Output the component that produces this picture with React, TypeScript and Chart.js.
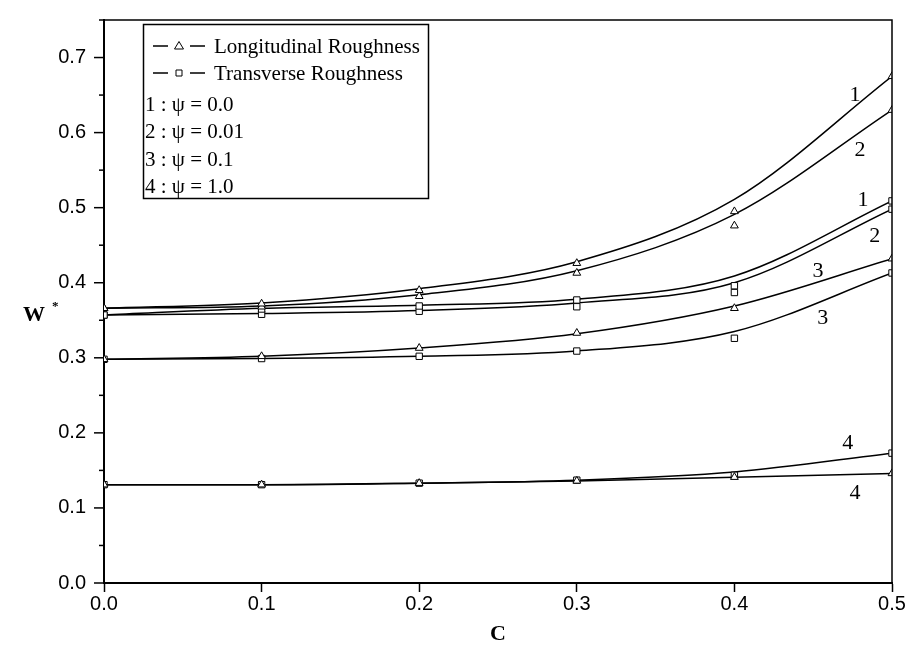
import { useEffect, useRef } from 'react';
import { Chart, registerables } from 'chart.js';

Chart.register(...registerables);

// ---------- data ----------
const cValues = [0, 0.1, 0.2, 0.3, 0.4, 0.5];

// fitted curves
const longCurvePsi0 = [0.366, 0.373, 0.392, 0.428, 0.511, 0.675];
const longCurvePsi001 = [0.366, 0.369, 0.384, 0.416, 0.491, 0.63];
const transCurvePsi0 = [0.357, 0.366, 0.37, 0.378, 0.409, 0.509];
const transCurvePsi001 = [0.357, 0.359, 0.363, 0.373, 0.4, 0.498];
const longCurvePsi01 = [0.298, 0.302, 0.313, 0.332, 0.369, 0.432];
const transCurvePsi01 = [0.298, 0.299, 0.302, 0.309, 0.335, 0.413];
const longCurvePsi1 = [0.131, 0.131, 0.133, 0.136, 0.141, 0.146];
const transCurvePsi1 = [0.131, 0.131, 0.133, 0.137, 0.148, 0.173];

// computed points (markers)
const longPtsPsi0 = [0.366, 0.372, 0.39, 0.426, 0.495, 0.675];
const longPtsPsi001 = [0.366, 0.368, 0.382, 0.413, 0.476, 0.63];
const transPtsPsi0 = [0.357, 0.365, 0.369, 0.377, 0.396, 0.509];
const transPtsPsi001 = [0.357, 0.358, 0.362, 0.368, 0.387, 0.498];
const longPtsPsi01 = [0.298, 0.302, 0.313, 0.333, 0.366, 0.432];
const transPtsPsi01 = [0.298, 0.299, 0.302, 0.309, 0.326, 0.413];
const longPtsPsi1 = [0.131, 0.131, 0.133, 0.136, 0.141, 0.146];
const transPtsPsi1 = [0.131, 0.131, 0.133, 0.137, 0.1435, 0.173];

const legendSeries = ['Longitudinal Roughness', 'Transverse Roughness'];
const legendPsi = ['1 : \u03C8 = 0.0', '2 : \u03C8 = 0.01', '3 : \u03C8 = 0.1', '4 : \u03C8 = 1.0'];

// curve number labels, in data coordinates
const curveLabelText = ['1', '2', '1', '2', '3', '3', '4', '4'];
const curveLabelC = [0.4765, 0.4797, 0.4816, 0.489, 0.453, 0.456, 0.472, 0.4765];
const curveLabelW = [0.65, 0.576, 0.5105, 0.462, 0.415, 0.3526, 0.1857, 0.119];

const xMin = 0;
const xMax = 0.5;
const xStep = 0.1;
const yMin = 0;
const yMax = 0.75;
const yStep = 0.05;

const xTitle = 'C';
const yTitle = 'W';
const yTitleAt = 0.356;

const SERIF = '"Liberation Serif", "Times New Roman", serif';
const SANS = '"Liberation Sans", Arial, sans-serif';

const toXY = (arr: number[]) => cValues.map((c, i) => ({ x: c, y: arr[i] }));

const curve = (arr: number[]) => ({
  data: toXY(arr),
  showLine: true,
  borderColor: '#000',
  borderWidth: 1.5,
  pointRadius: 0,
  pointHoverRadius: 0,
  cubicInterpolationMode: 'monotone' as const,
  fill: false,
  clip: 0,
});

const markers = (arr: number[], style: 'triangle' | 'rect') => ({
  data: toXY(arr),
  showLine: false,
  pointStyle: style,
  pointRadius: 4.5,
  pointBackgroundColor: '#fff',
  pointBorderColor: '#000',
  pointBorderWidth: 1,
  clip: 0,
});

const decorPlugin = {
  id: 'decor',
  afterDraw(chart: any) {
    const { ctx, chartArea: a, scales } = chart;
    const xs = scales.x;
    const ys = scales.y;
    ctx.save();
    // frame top/right
    ctx.strokeStyle = '#000';
    ctx.lineWidth = 1.5;
    ctx.beginPath();
    ctx.moveTo(a.left, a.top);
    ctx.lineTo(a.right, a.top);
    ctx.lineTo(a.right, a.bottom);
    ctx.stroke();

    // y ticks major/minor
    ctx.lineWidth = 1.5;
    ys.ticks.forEach((t: any) => {
      const v = t.value;
      const py = ys.getPixelForValue(v);
      const major = Math.round(v * 100) % 10 === 0;
      const len = major ? 10 : 5;
      ctx.beginPath();
      ctx.moveTo(a.left - len, py);
      ctx.lineTo(a.left, py);
      ctx.stroke();
    });

    // axis titles
    ctx.fillStyle = '#000';
    ctx.font = `bold 22px ${SERIF}`;
    ctx.textAlign = 'center';
    ctx.textBaseline = 'middle';
    ctx.fillText(xTitle, (a.left + a.right) / 2, 634);
    const yMid = ys.getPixelForValue(yTitleAt);
    ctx.textAlign = 'left';
    ctx.fillText(yTitle, 23, yMid);
    ctx.font = `bold 13px ${SERIF}`;
    ctx.fillText('*', 52, yMid - 9);

    // curve labels
    ctx.font = `22px ${SERIF}`;
    ctx.textAlign = 'center';
    curveLabelText.forEach((txt, i) => {
      ctx.fillText(txt, xs.getPixelForValue(curveLabelC[i]), ys.getPixelForValue(curveLabelW[i]));
    });

    // legend box
    const bx = 143, by = 24, bw = 285, bh = 174;
    ctx.lineWidth = 1.5;
    ctx.strokeRect(bx + 0.5, by + 0.5, bw, bh);
    const rowY = [46, 73, 104, 131, 159, 186];
    ctx.font = `21px ${SERIF}`;
    ctx.textAlign = 'left';
    legendSeries.forEach((label, i) => {
      const y = rowY[i];
      ctx.lineWidth = 1.3;
      ctx.beginPath();
      ctx.moveTo(153, y);
      ctx.lineTo(168, y);
      ctx.moveTo(190, y);
      ctx.lineTo(205, y);
      ctx.stroke();
      ctx.lineWidth = 1;
      ctx.beginPath();
      if (i === 0) {
        ctx.moveTo(179, y - 4.5);
        ctx.lineTo(183.5, y + 3);
        ctx.lineTo(174.5, y + 3);
        ctx.closePath();
      } else {
        ctx.rect(176, y - 3, 6, 6);
      }
      ctx.stroke();
      ctx.fillText(label, 214, y + 1);
    });
    legendPsi.forEach((label, i) => {
      ctx.fillText(label, 145, rowY[i + 2] + 1);
    });
    ctx.restore();
  },
};

export default function App() {
  const ref = useRef<HTMLCanvasElement | null>(null);
  useEffect(() => {
    if (!ref.current) return;
    const chart = new Chart(ref.current, {
      type: 'line',
      data: {
        datasets: [
          markers(longPtsPsi0, 'triangle'),
          markers(longPtsPsi001, 'triangle'),
          markers(transPtsPsi0, 'rect'),
          markers(transPtsPsi001, 'rect'),
          markers(longPtsPsi01, 'triangle'),
          markers(transPtsPsi01, 'rect'),
          markers(longPtsPsi1, 'triangle'),
          markers(transPtsPsi1, 'rect'),
          curve(longCurvePsi0),
          curve(longCurvePsi001),
          curve(transCurvePsi0),
          curve(transCurvePsi001),
          curve(longCurvePsi01),
          curve(transCurvePsi01),
          curve(longCurvePsi1),
          curve(transCurvePsi1),
        ] as any,
      },
      options: {
        animation: false,
        responsive: true,
        maintainAspectRatio: false,
        devicePixelRatio: 1,
        layout: { padding: { left: 8, right: 19, top: 10, bottom: 0 } },
        plugins: { legend: { display: false }, tooltip: { enabled: false } },
        events: [],
        scales: {
          x: {
            type: 'linear',
            min: xMin,
            max: xMax,
            afterFit: (s: any) => { s.height = 74; },
            ticks: {
              stepSize: xStep,
              color: '#000',
              font: { family: SANS, size: 20 },
              padding: 0,
              maxRotation: 0,
              callback: (v: any) => Number(v).toFixed(1),
            },
            grid: { drawOnChartArea: false, tickLength: 9, tickColor: '#000', tickWidth: 1.5 },
            border: { color: '#000', width: 2 },
          },
          y: {
            type: 'linear',
            min: yMin,
            max: yMax,
            afterFit: (s: any) => { s.width = 96; },
            ticks: {
              stepSize: yStep,
              color: '#000',
              font: { family: SANS, size: 20 },
              padding: 8,
              autoSkip: false,
              callback: (v: any) => (Math.round(Number(v) * 100) % 10 === 0 ? Number(v).toFixed(1) : ''),
            },
            grid: { drawOnChartArea: false, tickLength: 10, tickColor: 'rgba(0,0,0,0)' },
            border: { color: '#000', width: 2 },
          },
        },
      },
      plugins: [decorPlugin],
    });
    return () => chart.destroy();
  }, []);
  return (
    <div style={{ position: 'fixed', left: 0, top: 0, width: 911, height: 657, background: '#fff' }}>
      <canvas ref={ref} />
    </div>
  );
}
